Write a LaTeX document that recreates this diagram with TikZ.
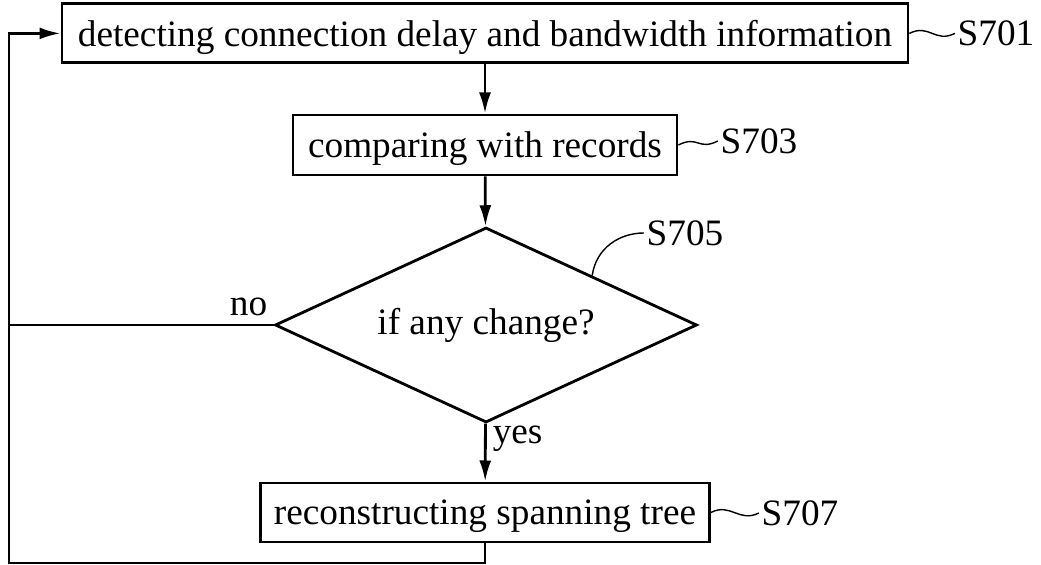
\documentclass[tikz,border=0pt]{standalone}
\usepackage{fontspec}
\setmainfont{Liberation Serif}
\usetikzlibrary{shapes.geometric,arrows.meta}

\tikzset{
  stepbox/.style={draw, minimum height=1.475cm, inner sep=0pt, text depth=0pt},
  stepdecision/.style={draw, diamond, aspect=2.16, inner sep=0pt},
  steplabel/.style={inner sep=1pt},
  leader/.style={line width=1pt}
}

\begin{document}
\begin{tikzpicture}[line width=2pt, font=\fontsize{26.5}{30}\selectfont, >={Latex[length=15pt,width=8.5pt]}]
        \useasboundingbox (0,0) rectangle (26.025,14.125);
        % passi del diagramma
        \node[stepbox, minimum width=21.15cm] (s701_node) at (12.125, 13.29) {detecting connection delay and bandwidth information};

        \node[stepbox, minimum width=9.6cm, minimum height=1.5cm] (s703_node) at (12.125, 10.5) {comparing with records};

        \node[stepdecision, minimum width=10.55cm, minimum height=4.875cm] (dec_node) at (12.15, 6.0) {if any change?};

        \node[stepbox, minimum width=11.225cm] (s707_node) at (12.125, 1.3125) {reconstructing spanning tree};

        % etichette dei passi
        \node[steplabel] (s701_label) at (24.9, 13.29) {S701};
        \node[steplabel] (s703_label) at (18.975, 10.6) {S703};
        \node[steplabel] (s705_label) at (17.125, 8.3) {S705};
        \node[steplabel] (s707_label) at (20.0, 1.3) {S707};

        \node[anchor=south east, inner sep=1pt] (no_label) at (6.75, 6.15) {no};
        \node[anchor=north west, inner sep=1pt] (yes_label) at (12.25, 3.55) {yes};

        % angoli del ciclo
        \coordinate (loop_bl) at (0.225, 0.05);
        \coordinate (loop_tl) at (0.225, 13.29);
        \path (dec_node.north) -- (dec_node.east) coordinate[pos=0.5] (s705_foot);

        \draw[->] (s701_node) -- (s703_node);
        \draw[->] (s703_node) -- (dec_node);
        \draw[->] (dec_node) -- (s707_node);
        \draw[->] (s707_node.south) |- (loop_bl) -- (loop_tl) -- (s701_node.west);
        \draw (dec_node.west) -- (dec_node.west -| loop_bl);

        \draw[leader] (s701_node.east) .. controls +(0.5,0.25) and +(-0.5,-0.25) .. (s701_label.west);
        \draw[leader] (s703_node.east) .. controls +(0.5,0.25) and +(-0.5,-0.25) .. (s703_label.west);
        \draw[leader] (s705_foot) .. controls +(0.1,0.7) and +(-0.6,0) .. (s705_label.west);
        \draw[leader] (s707_node.east) .. controls +(0.5,0.25) and +(-0.5,-0.25) .. (s707_label.west);
    \end{tikzpicture}
\end{document}
